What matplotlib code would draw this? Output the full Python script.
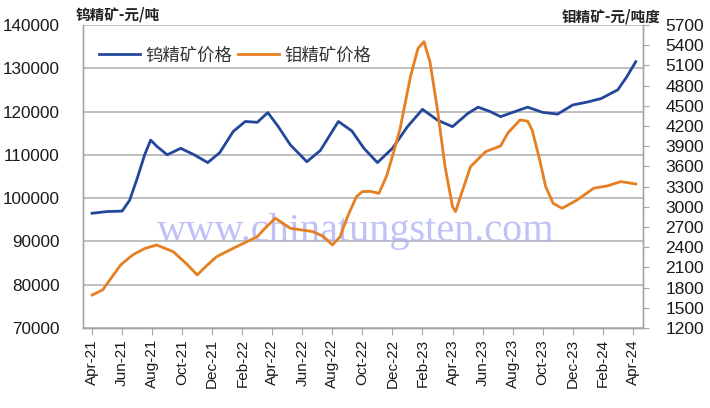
import matplotlib
matplotlib.use('Agg')
import matplotlib.pyplot as plt

# month index: 0 = Apr-21 ... 36 = Apr-24
w_month = [0, 1, 2, 2.5, 3, 3.5, 3.9, 4.3, 5, 5.9, 6.8, 7.7, 8.5, 9.4, 10.2, 11,
           11.7, 12.4, 13.2, 14.3, 15.2, 16.4, 17.3, 18.1, 19, 20, 21, 22, 23,
           24, 25, 25.7, 26.5, 27.2, 28, 29, 30, 31, 32, 33, 33.9, 35, 35.6, 36.2]
w_price = [96500, 96900, 97000, 99500, 104500, 110000, 113400, 112000, 110000,
           111500, 110000, 108200, 110500, 115400, 117700, 117500, 119750, 116500,
           112300, 108400, 111000, 117700, 115500, 111500, 108200, 111500, 116500,
           120500, 118000, 116500, 119500, 121000, 120000, 118800, 119800, 121000,
           119800, 119400, 121500, 122200, 123000, 125000, 128000, 131500]

mo_month = [0, 0.7, 1.3, 1.9, 2.7, 3.5, 4.3, 5.4, 6.3, 7, 7.6, 8.3, 9.4, 11, 11.6,
            12.2, 13.2, 14.7, 15.4, 16, 16.5, 17, 17.6, 18, 18.5, 19.1, 19.6, 20,
            20.5, 21.2, 21.7, 22.1, 22.5, 23, 23.5, 24, 24.2, 24.6, 25.2, 26.2,
            27.2, 27.7, 28.5, 29, 29.3, 29.8, 30.2, 30.7, 31.3, 32.3, 33.4, 34.3,
            35.2, 36.2]
mo_price = [1690, 1765, 1950, 2136, 2285, 2380, 2433, 2334, 2150, 1988, 2120, 2260,
            2384, 2557, 2700, 2830, 2681, 2631, 2560, 2433, 2550, 2850, 3150, 3225,
            3230, 3200, 3450, 3750, 4150, 4933, 5350, 5452, 5150, 4438, 3600, 3000,
            2928, 3200, 3596, 3818, 3903, 4100, 4290, 4270, 4141, 3700, 3300, 3050,
            2978, 3101, 3275, 3310, 3373, 3339]

tick_labels = ['Apr-21', 'Jun-21', 'Aug-21', 'Oct-21', 'Dec-21', 'Feb-22', 'Apr-22',
               'Jun-22', 'Aug-22', 'Oct-22', 'Dec-22', 'Feb-23', 'Apr-23', 'Jun-23',
               'Aug-23', 'Oct-23', 'Dec-23', 'Feb-24', 'Apr-24']

plt.rcParams['font.family'] = ['Liberation Sans', 'Noto Sans CJK SC']
cjk = ['Noto Sans CJK SC', 'DejaVu Sans']
grey = '#a6a6a6'

fig = plt.figure(figsize=(7.1, 4.08), dpi=100)
ax = fig.add_axes([0.117, 0.196, 0.789, 0.743])
ax2 = ax.twinx()

ax.set_ylim(70000, 140000)
ax.set_yticks(range(70000, 140001, 10000))
ax.set_xlim(-0.6, 36.7)
ax.set_xticks(range(0, 37, 2))
ax.set_xticklabels(tick_labels, rotation=90, fontsize=11)
ax.yaxis.grid(True, color='#b4b4b4', linewidth=1.2)
ax.set_axisbelow(True)
ax.tick_params(axis='y', labelsize=12.3, length=0, pad=17, colors='#1a1a1a')
ax.tick_params(axis='x', length=5, color=grey, colors='#1a1a1a', pad=3)

ax2.set_ylim(1200, 5700)
ax2.set_yticks(range(1200, 5701, 300))
ax2.tick_params(axis='y', labelsize=12.5, length=4, color=grey, pad=12, colors='#1a1a1a')

for a in (ax, ax2):
    for s in a.spines.values():
        s.set_color(grey)
        s.set_linewidth(1)
    a.spines['top'].set_visible(False)

# watermark
ax.text(0.4875, 0.317, 'www.chinatungsten.com', transform=ax.transAxes, ha='center',
        va='center', fontsize=29, family='Liberation Serif', color='#a9aef5',
        alpha=0.75, zorder=1)

l1, = ax.plot(w_month, w_price, color='#23479a', linewidth=2.0,
              solid_joinstyle='round', zorder=3)
l2, = ax2.plot(mo_month, mo_price, color='#e67e22', linewidth=2.0,
               solid_joinstyle='round', zorder=3)

leg = ax.legend([l1, l2], ['钨精矿价格', '钼精矿价格'], loc='upper left',
                bbox_to_anchor=(0.0, 0.98), ncol=2, frameon=False,
                handlelength=2.4, handletextpad=0.3, columnspacing=0.3,
                prop={'family': cjk, 'size': 12.5})
for t in leg.get_texts():
    t.set_color('#333333')

fig.text(0.106, 0.965, '钨精矿-元/吨', family=cjk, fontsize=10.5, weight='bold',
         color='#222222', va='center', ha='left')
fig.text(0.93, 0.96, '钼精矿-元/吨度', family=cjk, fontsize=10.5, weight='bold',
         color='#222222', va='center', ha='right')

fig.savefig('out.png', dpi=100)
